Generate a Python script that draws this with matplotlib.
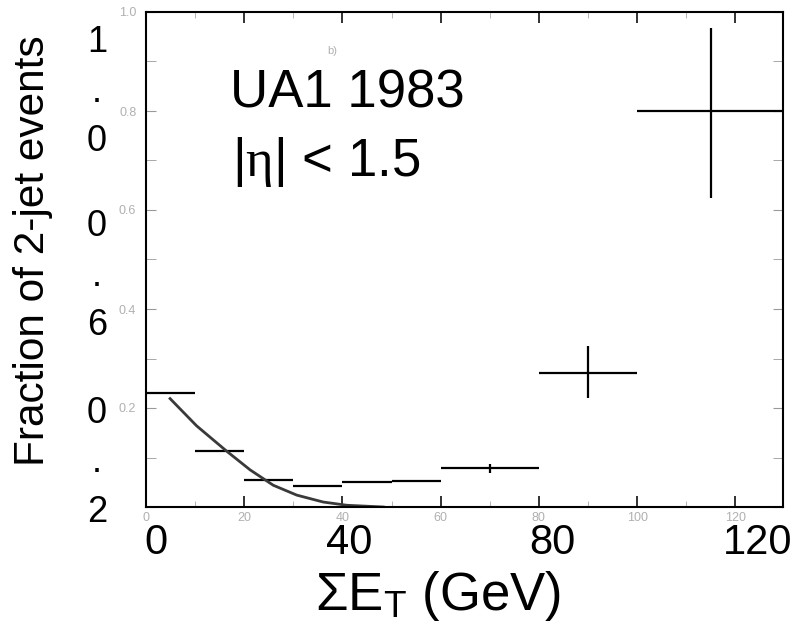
import numpy as np
import matplotlib
matplotlib.use("Agg")
import matplotlib.pyplot as plt

plt.rcParams["font.family"] = ["Liberation Sans", "DejaVu Sans"]
plt.rcParams["mathtext.fontset"] = "custom"
plt.rcParams["mathtext.rm"] = "Liberation Sans"
plt.rcParams["mathtext.it"] = "Liberation Serif"
plt.rcParams["mathtext.bf"] = "Liberation Sans:bold"

# binned fraction of 2-jet events
bin_lo = [0, 10, 20, 30, 40, 50, 60, 80, 100]
bin_hi = [10, 20, 30, 40, 50, 60, 80, 100, 130]
frac = [0.231, 0.113, 0.055, 0.043, 0.051, 0.053, 0.078, 0.271, 0.801]
err_dn = [0, 0, 0, 0, 0, 0, 0.009, 0.051, 0.177]
err_up = [0, 0, 0, 0, 0, 0, 0.009, 0.054, 0.167]

# the falling curve drawn through the low bins
curve_x = [4.9, 10.3, 16.4, 21.2, 25.9, 30.7, 36.1, 40.9, 48.3]
curve_y = [0.219, 0.164, 0.113, 0.075, 0.044, 0.024, 0.010, 0.0035, 0.0]

# big overlay labels pasted on top of the scan
over_x_labels = ["0", "40", "80", "120"]
over_y_labels = ["1\n.\n0", "0\n.\n6", "0\n.\n2"]

W, H = 792, 627
fig = plt.figure(figsize=(W / 100, H / 100), dpi=100)
ax = fig.add_axes([146 / W, 1 - 507 / H, (783 - 146) / W, (507 - 12) / H])

def px(x, y):
    # pixel position -> figure fraction
    return x / W, 1 - y / H

lo = np.array(bin_lo, float)
hi = np.array(bin_hi, float)
xc = (lo + hi) / 2
ax.errorbar(xc, frac, xerr=[xc - lo, hi - xc], yerr=[err_dn, err_up],
            fmt="none", ecolor="black", elinewidth=1.6, capsize=0)
ax.plot(curve_x, curve_y, color="#3a3a3a", lw=2.0)

ax.set_xlim(0, 129.7)
ax.set_ylim(0, 1.0)
ax.set_xticks(np.arange(0, 121, 20))
ax.set_xticks(np.arange(10, 130, 20), minor=True)
ax.set_yticks(np.arange(0, 1.01, 0.2))
ax.set_yticks(np.arange(0.1, 1.0, 0.2), minor=True)
ax.set_xticklabels(["0", "20", "40", "60", "80", "100", "120"])
ax.set_yticklabels(["", "0.2", "0.4", "0.6", "0.8", "1.0"])
ax.tick_params(which="both", direction="in", top=True, right=True,
               labelsize=9, labelcolor="#b0b0b0", color="#777777")
ax.tick_params(axis="x", which="major", length=8, width=1.3, color="#222222")
ax.tick_params(axis="x", which="minor", length=4, color="#aaaaaa")
ax.tick_params(axis="y", which="both", length=7, color="#999999", pad=7)
for s in ax.spines.values():
    s.set_linewidth(1.5)
    s.set_color("black")

ax.text(37, 0.915, "b)", fontsize=8, color="#b0b0b0")

# overlay text
fig.text(*px(230, 108), "UA1 1983", fontsize=38, va="baseline", ha="left")
fig.text(*px(232, 176), r"|$\eta$| < 1.5", fontsize=38, va="baseline", ha="left")

for lab, x in zip(over_x_labels, [156, 349, 552, 758]):
    fig.text(*px(x, 543), lab, fontsize=30, ha="center", va="center")
for lab, y in zip(over_y_labels, [92, 276, 463]):
    fig.text(*px(97, y), lab, fontsize=26, ha="center", va="center",
             linespacing=1.53)

fig.text(*px(33, 251), "Fraction of 2-jet events", fontsize=30.5,
         rotation=90, ha="center", va="center")
fig.text(*px(438, 596), r"$\Sigma\mathrm{E}_\mathrm{T}$ (GeV)", fontsize=38,
         ha="center", va="center")

fig.savefig("out.png", dpi=100)
